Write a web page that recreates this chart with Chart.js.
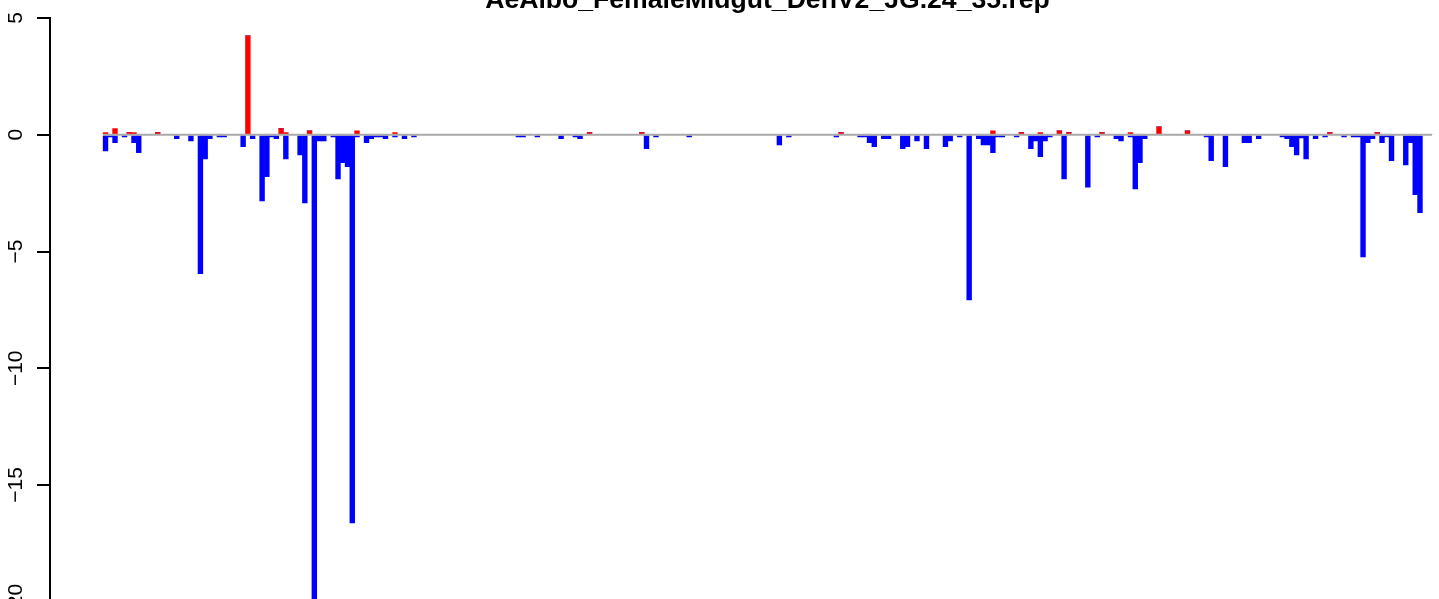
<!DOCTYPE html>
<html>
<head>
<meta charset="utf-8">
<script src="https://cdn.jsdelivr.net/npm/chart.js@4.4.1/dist/chart.umd.min.js"></script>
<style>
  html, body { margin: 0; padding: 0; width: 1439px; height: 599px; overflow: hidden; background: #fff; }
  #wrap { position: absolute; left: 0; top: -40px; }
</style>
</head>
<body>
<div id="wrap"><canvas id="chart" width="1536" height="660"></canvas></div>
<script>
// title of the run
const TITLE = "AeAlbo_FemaleMidgut_DenV2_JG.24_35.rep";

// y axis ticks
const Y_MIN = -20;
const Y_MAX = 5;
const Y_STEP = 5;

// positive values (red), one per window
const upValues = [
  0.09, 0, 0.26, 0, 0, 0.09, 0.09, 0, 0, 0, 0, 0.09, 0, 0, 0, 0, 0, 0, 0, 0,
  0, 0, 0, 0, 0, 0, 0, 0, 0, 0, 4.24, 0, 0, 0, 0, 0, 0, 0.26, 0.09, 0,
  0, 0, 0, 0.17, 0, 0, 0, 0, 0, 0, 0, 0, 0, 0.17, 0, 0, 0, 0, 0, 0,
  0, 0.09, 0, 0, 0, 0, 0, 0, 0, 0, 0, 0, 0, 0, 0, 0, 0, 0, 0, 0,
  0, 0, 0, 0, 0, 0, 0, 0, 0, 0, 0, 0, 0, 0, 0, 0, 0, 0, 0, 0,
  0, 0, 0.09, 0, 0, 0, 0, 0, 0, 0, 0, 0, 0, 0.09, 0, 0, 0, 0, 0, 0,
  0, 0, 0, 0, 0, 0, 0, 0, 0, 0, 0, 0, 0, 0, 0, 0, 0, 0, 0, 0,
  0, 0, 0, 0, 0, 0, 0, 0, 0, 0, 0, 0, 0, 0, 0, 0.09, 0, 0, 0, 0,
  0, 0, 0, 0, 0, 0, 0, 0, 0, 0, 0, 0, 0, 0, 0, 0, 0, 0, 0, 0,
  0, 0, 0, 0, 0, 0, 0, 0.17, 0, 0, 0, 0, 0, 0.09, 0, 0, 0, 0.09, 0, 0,
  0, 0.17, 0, 0.09, 0, 0, 0, 0, 0, 0, 0.09, 0, 0, 0, 0, 0, 0.09, 0, 0, 0,
  0, 0, 0.34, 0, 0, 0, 0, 0, 0.17, 0, 0, 0, 0, 0, 0, 0, 0, 0, 0, 0,
  0, 0, 0, 0, 0, 0, 0, 0, 0, 0, 0, 0, 0, 0, 0, 0, 0, 0, 0.09, 0,
  0, 0, 0, 0, 0, 0, 0, 0, 0.09, 0, 0, 0, 0, 0, 0, 0, 0, 0, 0, 0
];

// negative values (blue), same windows
const downValues = [
  -0.69, -0.09, -0.34, 0, -0.09, 0, -0.34, -0.77, 0, 0, 0, 0, 0, 0, 0, -0.17, 0, 0, -0.26, 0,
  -5.95, -1.03, -0.17, 0, -0.09, -0.09, 0, 0, 0, -0.51, 0, -0.17, 0, -2.83, -1.8, -0.09, -0.17, 0, -1.03, 0,
  0, -0.86, -2.92, 0, -34, -0.26, -0.26, 0, -0.09, -1.89, -1.2, -1.37, -16.62, -0.09, 0, -0.34, -0.17, -0.09, -0.09, -0.17,
  0, -0.09, 0, -0.17, 0, -0.09, 0, 0, 0, 0, 0, 0, 0, 0, 0, 0, 0, 0, 0, 0,
  0, 0, 0, 0, 0, 0, 0, -0.09, -0.09, 0, 0, -0.09, 0, 0, 0, 0, -0.17, 0, 0, -0.09,
  -0.17, 0, 0, 0, 0, 0, 0, 0, 0, 0, 0, 0, 0, 0, -0.6, 0, -0.09, 0, 0, 0,
  0, 0, 0, -0.09, 0, 0, 0, 0, 0, 0, 0, 0, 0, 0, 0, 0, 0, 0, 0, 0,
  0, 0, -0.43, 0, -0.09, 0, 0, 0, 0, 0, 0, 0, 0, 0, -0.09, 0, 0, 0, 0, -0.09,
  -0.09, -0.34, -0.51, 0, -0.17, -0.17, 0, 0, -0.6, -0.51, 0, -0.26, 0, -0.6, 0, 0, 0, -0.51, -0.26, 0,
  -0.09, 0, -7.07, 0, -0.17, -0.43, -0.43, -0.77, -0.09, -0.09, 0, 0, -0.09, 0, 0, -0.6, -0.26, -0.94, -0.26, -0.09,
  0, 0, -1.89, 0, 0, 0, 0, -2.24, 0, -0.09, 0, 0, 0, -0.17, -0.26, 0, -0.09, -2.32, -1.2, -0.17,
  0, 0, 0, 0, 0, 0, 0, 0, 0, 0, 0, 0, -0.09, -1.11, 0, 0, -1.37, 0, 0, 0,
  -0.34, -0.34, 0, -0.17, 0, 0, 0, 0, -0.09, -0.17, -0.51, -0.86, -0.13, -1.03, 0, -0.17, 0, -0.09, 0, 0,
  0, -0.09, 0, -0.09, -0.09, -5.23, -0.34, -0.17, 0, -0.34, -0.09, -1.11, 0, 0, -1.29, -0.34, -2.57, -3.34, 0, 0
];

const N = upValues.length;
const FONT = '"Liberation Sans", Arial, Helvetica, sans-serif';

const toPoints = arr => arr.map((v, i) => ({ x: i + 0.5, y: v }));
const fmtTick = v => (v < 0 ? "\u2212" + Math.abs(v) : String(v));

// gray baseline drawn over the bars, across the bar range
const zeroLine = {
  id: "zeroLine",
  afterDatasetsDraw(chart) {
    const { ctx, scales: { x, y } } = chart;
    const py = y.getPixelForValue(0);
    ctx.save();
    ctx.strokeStyle = "#a9a9a9";
    ctx.lineWidth = 2;
    ctx.beginPath();
    ctx.moveTo(x.getPixelForValue(0), py);
    ctx.lineTo(x.getPixelForValue(N), py);
    ctx.stroke();
    ctx.restore();
  }
};

// y tick labels turned on their side, like R's axis(2)
const yLabels = {
  id: "yLabels",
  afterDraw(chart) {
    const { ctx, scales: { y } } = chart;
    ctx.save();
    ctx.fillStyle = "#000";
    ctx.font = "21px " + FONT;
    ctx.textAlign = "center";
    ctx.textBaseline = "alphabetic";
    y.ticks.forEach(t => {
      ctx.save();
      ctx.translate(21.5, y.getPixelForValue(t.value));
      ctx.rotate(-Math.PI / 2);
      ctx.fillText(fmtTick(t.value), 0, 0);
      ctx.restore();
    });
    ctx.restore();
  }
};

new Chart(document.getElementById("chart"), {
  type: "bar",
  data: {
    datasets: [
      { label: "up", data: toPoints(upValues), backgroundColor: "#ff0000", borderWidth: 0, barPercentage: 1, categoryPercentage: 1 },
      { label: "down", data: toPoints(downValues), backgroundColor: "#0000ff", borderWidth: 0, barPercentage: 1, categoryPercentage: 1 }
    ]
  },
  options: {
    responsive: false,
    animation: false,
    layout: { padding: { left: 0, right: 51, top: 0, bottom: 18.25 } },
    plugins: {
      legend: { display: false },
      tooltip: { enabled: false },
      title: {
        display: true,
        text: TITLE,
        fullSize: false,
        color: "#000",
        font: { family: FONT, size: 26.6, weight: "bold", lineHeight: 1.2 },
        padding: { top: 24.5, bottom: 1.6 }
      }
    },
    scales: {
      x: { type: "linear", stacked: true, display: false, offset: false, min: -0.04 * N, max: 1.04 * N },
      y: {
        stacked: true,
        min: Y_MIN,
        max: Y_MAX,
        ticks: { stepSize: Y_STEP, display: false },
        grid: { drawOnChartArea: false, drawTicks: true, tickLength: 13, color: "#000", lineWidth: 2 },
        border: { display: true, color: "#000", width: 2 },
        afterFit(scale) { scale.width = 50; }
      }
    }
  },
  plugins: [zeroLine, yLabels]
});
</script>
</body>
</html>
